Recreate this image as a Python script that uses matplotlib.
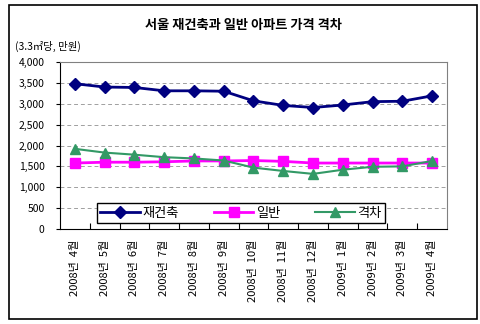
import matplotlib
matplotlib.use('Agg')
import matplotlib.pyplot as plt
from matplotlib.patches import Rectangle
from matplotlib.ticker import FuncFormatter

plt.rcParams['font.family'] = ['Noto Sans CJK KR', 'DejaVu Sans']

# data
months = ['2008년 4월', '2008년 5월', '2008년 6월', '2008년 7월', '2008년 8월',
          '2008년 9월', '2008년 10월', '2008년 11월', '2008년 12월',
          '2009년 1월', '2009년 2월', '2009년 3월', '2009년 4월']
rebuild = [3480, 3400, 3390, 3310, 3310, 3300, 3070, 2960, 2910, 2970, 3050, 3060, 3190]
general = [1580, 1600, 1600, 1610, 1630, 1630, 1640, 1620, 1580, 1580, 1580, 1580, 1580]
gap = [1920, 1830, 1780, 1720, 1690, 1640, 1470, 1390, 1320, 1420, 1490, 1500, 1630]

fig = plt.figure(figsize=(4.81, 3.24), dpi=100)
ax = fig.add_axes([60/481, 1-229/324, 387/481, 167/324])

x = list(range(len(months)))
ax.plot(x, rebuild, color='#000080', lw=2, marker='D', ms=6, label='재건축')
ax.plot(x, general, color='#FF00FF', lw=2, marker='s', ms=7, label='일반')
ax.plot(x, gap, color='#339966', lw=1.5, marker='^', ms=7, label='격차')

ax.set_xlim(-0.5, 12.5)
ax.set_ylim(0, 4000)
ax.set_yticks(range(0, 4001, 500))
ax.yaxis.set_major_formatter(FuncFormatter(lambda v, p: f'{int(v):,}'))
ax.grid(axis='y', color='#a0a0a0', ls=(0, (4, 3)), lw=0.7)
ax.set_axisbelow(True)

# category labels, ticks between categories
ax.set_xticks([i + 0.5 for i in range(12)])
ax.set_xticklabels([])
ax.tick_params(axis='x', direction='in', length=4, width=0.8)
ax.tick_params(axis='y', direction='out', length=3, width=0.8, labelsize=7.5, pad=8)
for i, m in enumerate(months):
    ax.text(i, -0.065, m.replace('년 ', '년  '), transform=ax.get_xaxis_transform(),
            rotation=90, ha='center', va='top', fontsize=8)

for s in ['top', 'right']:
    ax.spines[s].set_color('#808080')
for s in ['left', 'bottom']:
    ax.spines[s].set_color('black')

leg = ax.legend(loc='lower left', bbox_to_anchor=(0.0956, 0.036, 0.744, 0.12),
                mode='expand', ncol=3, fancybox=False, framealpha=1,
                edgecolor='black', fontsize=9.5, handlelength=3, borderpad=0.25,
                handletextpad=0.2, borderaxespad=0)
leg.get_frame().set_linewidth(1)

fig.text(243/481, 1-25/324, '서울 재건축과 일반 아파트 가격 격차', ha='center',
         va='center', fontsize=9.5, fontweight='bold')
fig.text(15/481, 1-46/324, '(3.3㎡당, 만원)', ha='left', va='center', fontsize=7.5)

fig.add_artist(Rectangle((9/481, 1-319/324), 468/481, 314/324, transform=fig.transFigure,
                         fill=False, edgecolor='black', lw=1.2))

fig.savefig('out.png', dpi=100)
